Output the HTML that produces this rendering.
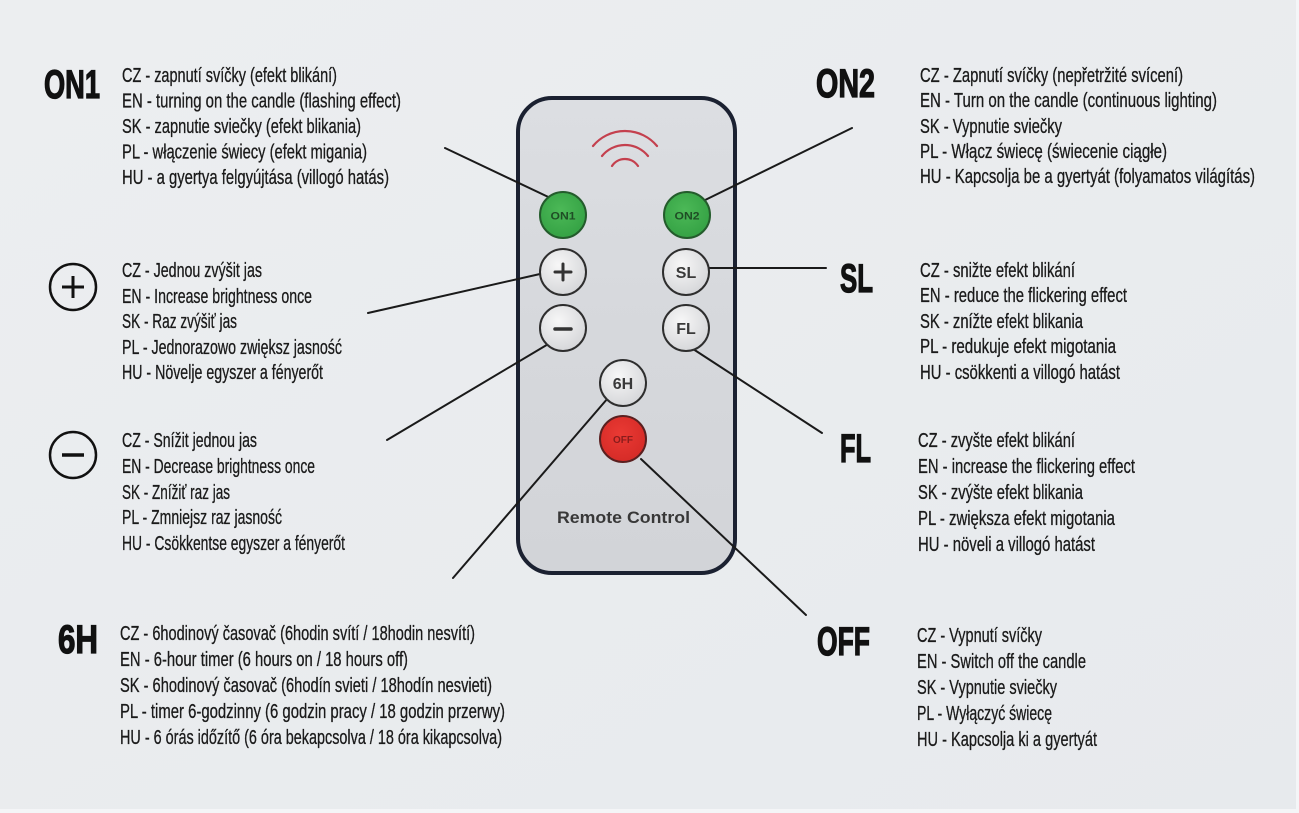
<!DOCTYPE html>
<html>
<head>
<meta charset="utf-8">
<style>
  html,body{margin:0;padding:0;background:#e9ecee;}
  svg{display:block;}
  .t{font-family:"Liberation Sans Narrow","Liberation Sans",sans-serif;font-size:20px;fill:#1a1a1a;stroke:#1a1a1a;stroke-width:0.3px;}
  .h{font-family:"Liberation Sans Narrow","Liberation Sans",sans-serif;font-size:40px;font-weight:bold;fill:#111;stroke:#111;stroke-width:1.3px;}
  .b{font-family:"Liberation Sans",sans-serif;font-weight:bold;}
</style>
</head>
<body>
<svg width="1299" height="813" viewBox="0 0 1299 813" xmlns="http://www.w3.org/2000/svg">
  <defs>
    <linearGradient id="bg" x1="0" y1="0" x2="1" y2="1">
      <stop offset="0" stop-color="#eceef0"/>
      <stop offset="1" stop-color="#e7eaed"/>
    </linearGradient>
    <linearGradient id="body" x1="0" y1="0" x2="0" y2="1">
      <stop offset="0" stop-color="#dcdee2"/>
      <stop offset="0.5" stop-color="#d6d8dc"/>
      <stop offset="1" stop-color="#d2d4d8"/>
    </linearGradient>
    <radialGradient id="btn" cx="0.4" cy="0.35" r="0.7">
      <stop offset="0" stop-color="#f7f7f7"/>
      <stop offset="1" stop-color="#d4d5d8"/>
    </radialGradient>
    <radialGradient id="grn" cx="0.45" cy="0.4" r="0.65">
      <stop offset="0" stop-color="#4cb957"/>
      <stop offset="1" stop-color="#33a043"/>
    </radialGradient>
    <radialGradient id="red" cx="0.45" cy="0.4" r="0.65">
      <stop offset="0" stop-color="#ea3a34"/>
      <stop offset="1" stop-color="#d42a26"/>
    </radialGradient>
  </defs>

  <rect x="0" y="0" width="1299" height="813" fill="url(#bg)"/>
  <rect x="0" y="809" width="1299" height="4" fill="#f4f5f7"/>
  <rect x="1296" y="0" width="3" height="813" fill="#f4f5f7"/>

  <!-- Remote body -->
  <rect x="518" y="98" width="217" height="475" rx="34" ry="34" fill="url(#body)" stroke="#1b2131" stroke-width="4"/>

  <!-- IR waves -->
  <g fill="none" stroke="#c4404e" stroke-width="2.2" stroke-linecap="round">
    <path d="M593 146 A41.6 41.6 0 0 1 657 146"/>
    <path d="M602 156 A29.5 29.5 0 0 1 648 156"/>
    <path d="M612 166 A15.6 15.6 0 0 1 638 166"/>
  </g>

  <!-- Connector lines -->
  <g stroke="#1a1a1a" stroke-width="2" fill="none" stroke-linecap="round">
    <line x1="445" y1="148" x2="561" y2="203"/>
    <line x1="852" y1="128" x2="699" y2="203"/>
    <line x1="368" y1="313" x2="540" y2="274"/>
    <line x1="690" y1="268" x2="826" y2="268"/>
    <line x1="387" y1="440" x2="550" y2="343"/>
    <line x1="690" y1="347" x2="822" y2="433"/>
    <line x1="453" y1="578" x2="608" y2="398"/>
    <line x1="641" y1="459" x2="806" y2="615"/>
  </g>

  <!-- Buttons -->
  <circle cx="563" cy="215" r="23" fill="url(#grn)" stroke="#245c2c" stroke-width="2"/>
  <text x="563" y="219.5" text-anchor="middle" class="b" font-size="11" fill="#1f4d25" textLength="25" lengthAdjust="spacingAndGlyphs">ON1</text>
  <circle cx="687" cy="215" r="23" fill="url(#grn)" stroke="#245c2c" stroke-width="2"/>
  <text x="687" y="219.5" text-anchor="middle" class="b" font-size="11" fill="#1f4d25" textLength="25" lengthAdjust="spacingAndGlyphs">ON2</text>

  <circle cx="563" cy="272" r="23" fill="url(#btn)" stroke="#2e2e2e" stroke-width="2"/>
  <g stroke="#333" stroke-width="3" stroke-linecap="round">
    <line x1="555" y1="272" x2="571" y2="272"/>
    <line x1="563" y1="264" x2="563" y2="280"/>
  </g>
  <circle cx="686" cy="272" r="23" fill="url(#btn)" stroke="#2e2e2e" stroke-width="2"/>
  <text x="686" y="278" text-anchor="middle" class="b" font-size="16" fill="#3a3a3a">SL</text>

  <circle cx="563" cy="328" r="23" fill="url(#btn)" stroke="#2e2e2e" stroke-width="2"/>
  <line x1="555" y1="329" x2="571" y2="329" stroke="#333" stroke-width="3.5" stroke-linecap="round"/>
  <circle cx="686" cy="328" r="23" fill="url(#btn)" stroke="#2e2e2e" stroke-width="2"/>
  <text x="686" y="334" text-anchor="middle" class="b" font-size="16" fill="#3a3a3a">FL</text>

  <circle cx="623" cy="383" r="23" fill="url(#btn)" stroke="#2e2e2e" stroke-width="2"/>
  <text x="623" y="389" text-anchor="middle" class="b" font-size="16" fill="#3a3a3a">6H</text>

  <circle cx="623" cy="439" r="23" fill="url(#red)" stroke="#5a2020" stroke-width="2"/>
  <text x="623" y="443" text-anchor="middle" class="b" font-size="10" fill="#8a1c1c" textLength="20" lengthAdjust="spacingAndGlyphs">OFF</text>

  <text x="557" y="523" class="b" font-size="17" fill="#383838" textLength="133" lengthAdjust="spacingAndGlyphs">Remote Control</text>

  <!-- Left icons -->
  <circle cx="73" cy="287" r="23" fill="none" stroke="#111" stroke-width="2.5"/>
  <g stroke="#111" stroke-width="3">
    <line x1="62" y1="287" x2="84" y2="287"/>
    <line x1="73" y1="276" x2="73" y2="298"/>
  </g>
  <circle cx="73" cy="455" r="23" fill="none" stroke="#111" stroke-width="2.5"/>
  <line x1="62" y1="455" x2="84" y2="455" stroke="#111" stroke-width="3.5"/>

  <!-- Titles -->
  <text class="h" x="44" y="98" textLength="56" lengthAdjust="spacingAndGlyphs">ON1</text>
  <text class="h" x="816" y="97" textLength="59" lengthAdjust="spacingAndGlyphs">ON2</text>
  <text class="h" x="840" y="292" textLength="33" lengthAdjust="spacingAndGlyphs">SL</text>
  <text class="h" x="840" y="462" textLength="31" lengthAdjust="spacingAndGlyphs">FL</text>
  <text class="h" x="58" y="653" textLength="40" lengthAdjust="spacingAndGlyphs">6H</text>
  <text class="h" x="817" y="655" textLength="53" lengthAdjust="spacingAndGlyphs">OFF</text>

  <!-- ON1 block -->
  <g class="t">
    <text x="122" y="82" textLength="215" lengthAdjust="spacingAndGlyphs">CZ - zapnutí svíčky (efekt blikání)</text>
    <text x="122" y="107.5" textLength="279" lengthAdjust="spacingAndGlyphs">EN - turning on the candle (flashing effect)</text>
    <text x="122" y="133" textLength="239" lengthAdjust="spacingAndGlyphs">SK - zapnutie sviečky (efekt blikania)</text>
    <text x="122" y="158.5" textLength="245" lengthAdjust="spacingAndGlyphs">PL - włączenie świecy (efekt migania)</text>
    <text x="122" y="184" textLength="267" lengthAdjust="spacingAndGlyphs">HU - a gyertya felgyújtása (villogó hatás)</text>
  </g>

  <!-- ON2 block -->
  <g class="t">
    <text x="920" y="82" textLength="263" lengthAdjust="spacingAndGlyphs">CZ - Zapnutí svíčky (nepřetržité svícení)</text>
    <text x="920" y="107" textLength="297" lengthAdjust="spacingAndGlyphs">EN - Turn on the candle (continuous lighting)</text>
    <text x="920" y="133" textLength="142" lengthAdjust="spacingAndGlyphs">SK - Vypnutie sviečky</text>
    <text x="920" y="158" textLength="247" lengthAdjust="spacingAndGlyphs">PL - Włącz świecę (świecenie ciągłe)</text>
    <text x="920" y="183" textLength="335" lengthAdjust="spacingAndGlyphs">HU - Kapcsolja be a gyertyát (folyamatos világítás)</text>
  </g>

  <!-- + block -->
  <g class="t">
    <text x="122" y="277" textLength="140" lengthAdjust="spacingAndGlyphs">CZ - Jednou zvýšit jas</text>
    <text x="122" y="303" textLength="190" lengthAdjust="spacingAndGlyphs">EN - Increase brightness once</text>
    <text x="122" y="328" textLength="115" lengthAdjust="spacingAndGlyphs">SK - Raz zvýšiť jas</text>
    <text x="122" y="354" textLength="220" lengthAdjust="spacingAndGlyphs">PL - Jednorazowo zwiększ jasność</text>
    <text x="122" y="379" textLength="201" lengthAdjust="spacingAndGlyphs">HU - Növelje egyszer a fényerőt</text>
  </g>

  <!-- − block -->
  <g class="t">
    <text x="122" y="447" textLength="135" lengthAdjust="spacingAndGlyphs">CZ - Snížit jednou jas</text>
    <text x="122" y="473" textLength="193" lengthAdjust="spacingAndGlyphs">EN - Decrease brightness once</text>
    <text x="122" y="499" textLength="108" lengthAdjust="spacingAndGlyphs">SK - Znížiť raz jas</text>
    <text x="122" y="524" textLength="160" lengthAdjust="spacingAndGlyphs">PL - Zmniejsz raz jasność</text>
    <text x="122" y="550" textLength="223" lengthAdjust="spacingAndGlyphs">HU - Csökkentse egyszer a fényerőt</text>
  </g>

  <!-- 6H block -->
  <g class="t">
    <text x="120" y="640" textLength="355" lengthAdjust="spacingAndGlyphs">CZ - 6hodinový časovač (6hodin svítí / 18hodin nesvítí)</text>
    <text x="120" y="666" textLength="288" lengthAdjust="spacingAndGlyphs">EN - 6-hour timer (6 hours on / 18 hours off)</text>
    <text x="120" y="692" textLength="372" lengthAdjust="spacingAndGlyphs">SK - 6hodinový časovač (6hodín svieti / 18hodín nesvieti)</text>
    <text x="120" y="718" textLength="385" lengthAdjust="spacingAndGlyphs">PL - timer 6-godzinny (6 godzin pracy / 18 godzin przerwy)</text>
    <text x="120" y="744" textLength="382" lengthAdjust="spacingAndGlyphs">HU - 6 órás időzítő (6 óra bekapcsolva / 18 óra kikapcsolva)</text>
  </g>

  <!-- SL block -->
  <g class="t">
    <text x="920" y="277" textLength="155" lengthAdjust="spacingAndGlyphs">CZ - snižte efekt blikání</text>
    <text x="920" y="302" textLength="207" lengthAdjust="spacingAndGlyphs">EN - reduce the flickering effect</text>
    <text x="920" y="328" textLength="163" lengthAdjust="spacingAndGlyphs">SK - znížte efekt blikania</text>
    <text x="920" y="353" textLength="196" lengthAdjust="spacingAndGlyphs">PL - redukuje efekt migotania</text>
    <text x="920" y="379" textLength="200" lengthAdjust="spacingAndGlyphs">HU - csökkenti a villogó hatást</text>
  </g>

  <!-- FL block -->
  <g class="t">
    <text x="918" y="447" textLength="157" lengthAdjust="spacingAndGlyphs">CZ - zvyšte efekt blikání</text>
    <text x="918" y="473" textLength="217" lengthAdjust="spacingAndGlyphs">EN - increase the flickering effect</text>
    <text x="918" y="499" textLength="165" lengthAdjust="spacingAndGlyphs">SK - zvýšte efekt blikania</text>
    <text x="918" y="525" textLength="197" lengthAdjust="spacingAndGlyphs">PL - zwiększa efekt migotania</text>
    <text x="918" y="551" textLength="177" lengthAdjust="spacingAndGlyphs">HU - növeli a villogó hatást</text>
  </g>

  <!-- OFF block -->
  <g class="t">
    <text x="917" y="642" textLength="125" lengthAdjust="spacingAndGlyphs">CZ -  Vypnutí svíčky</text>
    <text x="917" y="668" textLength="169" lengthAdjust="spacingAndGlyphs">EN - Switch off the candle</text>
    <text x="917" y="694" textLength="140" lengthAdjust="spacingAndGlyphs">SK - Vypnutie sviečky</text>
    <text x="917" y="720" textLength="135" lengthAdjust="spacingAndGlyphs">PL - Wyłączyć świecę</text>
    <text x="917" y="746" textLength="180" lengthAdjust="spacingAndGlyphs">HU - Kapcsolja ki a gyertyát</text>
  </g>
</svg>
</body>
</html>
